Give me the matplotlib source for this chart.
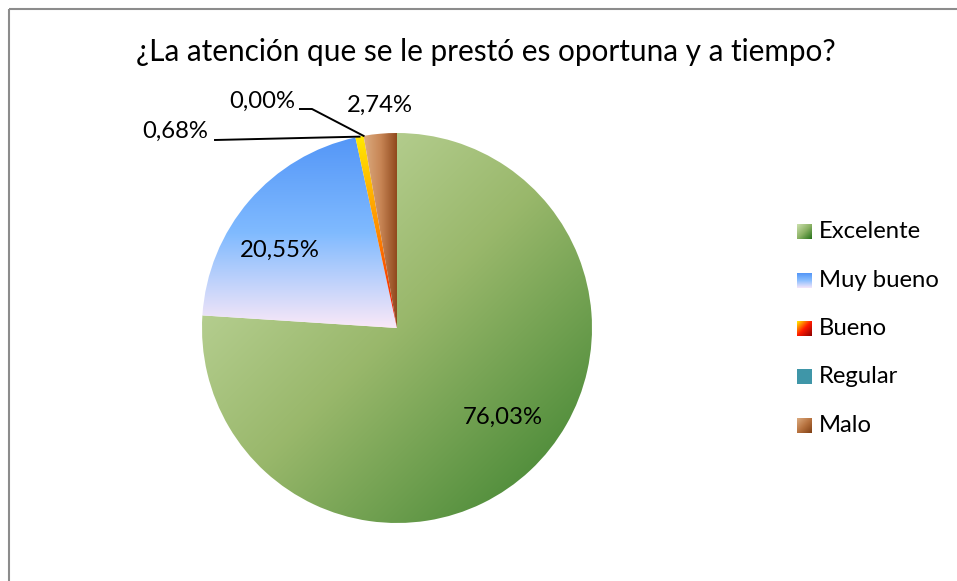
import numpy as np
import matplotlib
matplotlib.use("Agg")
import matplotlib.pyplot as plt

plt.rcParams['font.family'] = ['Lato', 'DejaVu Sans']

title = "¿La atención que se le prestó es oportuna y a tiempo?"
categories = ["Excelente", "Muy bueno", "Bueno", "Regular", "Malo"]
values = [76.03, 20.55, 0.68, 0.00, 2.74]

# gradient styles: list of color stops and direction
styles = [
    ([(0.80, 0.88, 0.68), (0.60, 0.72, 0.42), (0.22, 0.50, 0.17)], 'diag'),
    ([(0.33, 0.59, 0.97), (0.50, 0.73, 1.00), (0.98, 0.91, 0.97)], 'vert'),
    ([(1.00, 0.92, 0.00), (1.00, 0.55, 0.00), (0.95, 0.00, 0.00)], 'vert'),
    ([(0.25, 0.59, 0.66), (0.25, 0.59, 0.66)], 'vert'),
    ([(0.86, 0.67, 0.50), (0.78, 0.52, 0.33), (0.55, 0.27, 0.10)], 'horiz'),
]
legend_styles = [
    ([(0.80, 0.88, 0.68), (0.55, 0.70, 0.40), (0.15, 0.45, 0.10)], 'diag'),
    ([(0.33, 0.59, 0.97), (0.55, 0.75, 1.00), (0.96, 0.90, 0.98)], 'vert'),
    ([(1.00, 0.95, 0.00), (1.00, 0.10, 0.00), (0.55, 0.00, 0.00)], 'diag'),
    ([(0.25, 0.59, 0.66), (0.25, 0.59, 0.66)], 'vert'),
    ([(0.86, 0.67, 0.50), (0.72, 0.45, 0.25), (0.50, 0.25, 0.08)], 'diag'),
]

W, H = 957, 581
fig = plt.figure(figsize=(W / 100, H / 100), dpi=100)
ax = fig.add_axes([0, 0, 1, 1])


def grad_img(stops, mode, n=200):
    X, Y = np.meshgrid(np.linspace(0, 1, n), np.linspace(0, 1, n))
    if mode == 'diag':
        t = (X + Y) / 2
    elif mode == 'vert':
        t = Y
    else:
        t = X
    stops = np.array(stops)
    pos = np.linspace(0, 1, len(stops))
    img = np.zeros((n, n, 3))
    for k in range(3):
        img[..., k] = np.interp(t, pos, stops[:, k])
    return img


cx, cy, R = 397, H - 328, 195
wedges, _ = ax.pie(values, startangle=90, counterclock=False, radius=R,
                   center=(cx, cy), frame=True,
                   wedgeprops=dict(facecolor='none', edgecolor='none', linewidth=0))

for w, (stops, mode) in zip(wedges, styles):
    if w.theta2 - w.theta1 <= 0:
        continue
    ext = w.get_path().get_extents()
    im = ax.imshow(grad_img(stops, mode), extent=[ext.x0, ext.x1, ext.y0, ext.y1],
                   origin='upper', interpolation='bilinear', zorder=1)
    im.set_clip_path(w)

labels = [f"{v:.2f}".replace('.', ',') + '%' for v in values]
fs = 17.2
# inside labels
ax.text(503, H - 417, labels[0], ha='center', va='center', fontsize=fs, zorder=5)
ax.text(280, H - 250, labels[1], ha='center', va='center', fontsize=fs, zorder=5)
ax.text(380, H - 105, labels[4], ha='center', va='center', fontsize=fs, zorder=5)


def edge_point(w, frac=0.5):
    a = np.deg2rad(w.theta1 + frac * (w.theta2 - w.theta1))
    return cx + R * np.cos(a), cy + R * np.sin(a)

# Bueno label with leader
bx, by = edge_point(wedges[2])
ax.text(175, H - 131, labels[2], ha='center', va='center', fontsize=fs, zorder=5)
ax.plot([215, bx], [H - 140, by], color='black', lw=1.4, zorder=4)
# Regular label with leader
rx, ry = edge_point(wedges[3])
ax.text(262, H - 101, labels[3], ha='center', va='center', fontsize=fs, zorder=5)
ax.plot([300, 312, rx], [H - 109, H - 109, ry], color='black', lw=1.4, zorder=4)

# title
ax.text(486, H - 52, title, ha='center', va='center', fontsize=21.4)

# legend
for i, (cat, (stops, mode)) in enumerate(zip(categories, legend_styles)):
    yc = H - (232 + 48.3 * i)
    ax.imshow(grad_img(stops, mode, 40), extent=[797, 812, yc - 7.5, yc + 7.5],
              origin='upper', interpolation='bilinear', zorder=2)
    ax.text(819, yc, cat, ha='left', va='center', fontsize=17.2)

# frame (only top and left edges visible)
ax.plot([8.5, 8.5], [-5, H - 8.5], color='#8c8c8c', lw=1.5, solid_capstyle='butt')
ax.plot([8.5, W + 5], [H - 8.5, H - 8.5], color='#8c8c8c', lw=1.5, solid_capstyle='butt')

ax.set_xlim(0, W)
ax.set_ylim(0, H)
ax.set_aspect('auto')
ax.axis('off')
fig.savefig('out.png', dpi=100)
